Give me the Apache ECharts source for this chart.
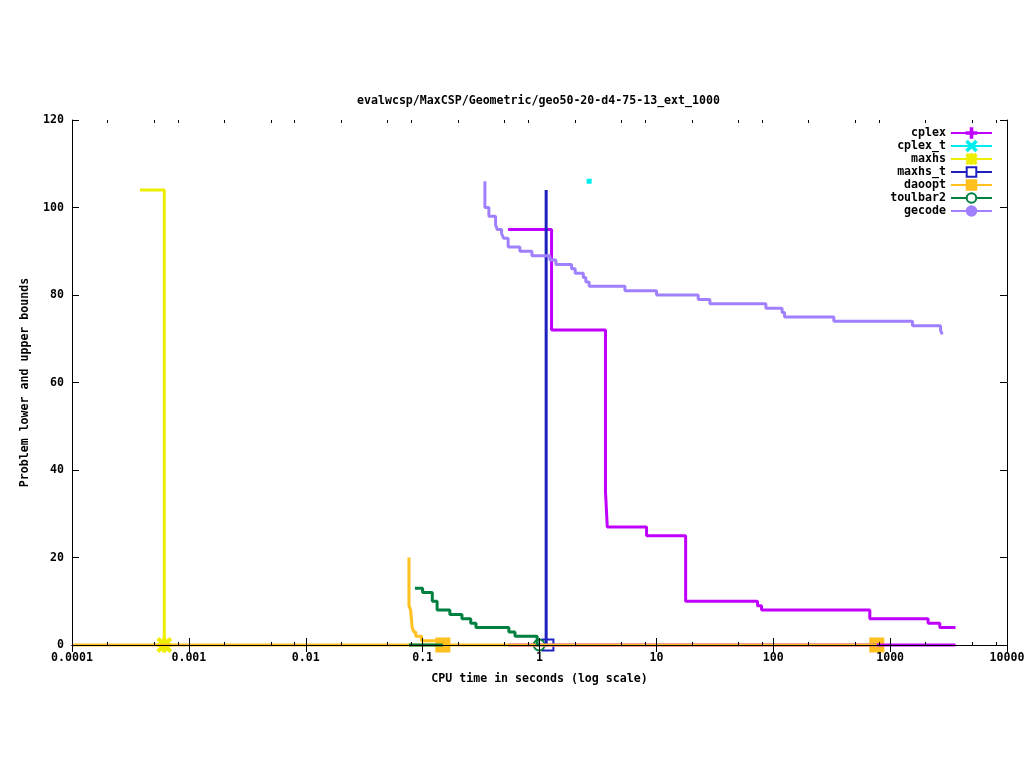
<!DOCTYPE html>
<html>
<head>
<meta charset="utf-8">
<script src="https://cdn.jsdelivr.net/npm/echarts@6/dist/echarts.min.js"></script>
<style>
html, body { margin: 0; padding: 0; background: #fff; }
#chart { width: 1024px; height: 768px; }
</style>
</head>
<body>
<div id="chart"></div>
<script>
// solver names, in the order gnuplot draws them
const names = ['cplex', 'cplex_t', 'maxhs', 'maxhs_t', 'daoopt', 'toulbar2', 'gecode'];
const colors = ['#c000ff', '#00eeee', '#eeee00', '#2020c0', '#ffc020', '#008040', '#a080ff'];

// [cpu time (s), bound] pairs, gnuplot "steps" style
const cplexUpper = [[0.539, 95], [1.268, 72], [3.67, 35], [3.80, 27], [8.24, 25], [17.8, 10],
  [73.4, 9], [79.4, 8], [670, 6], [2113, 5], [2661, 4], [3625, 4]];
const cplexLower = [[0.539, 0], [3625, 0]];
const cplexTPoint = [[2.66, 106]];
const maxhsUpper = [[0.000382, 104], [0.000616, 104], [0.000616, 0]];
const maxhsMarks = [[0.000616, 0]];
const maxhsTUpper = [[1.14, 104], [1.14, 0], [1.18, 0]];
const maxhsTMarks = [[1.18, 0]];
const daooptUpper = [[0.0764, 20], [0.0764, 9], [0.0789, 8], [0.0814, 4], [0.0840, 3],
  [0.0874, 2], [0.0978, 1], [0.149, 0]];
const daooptLower = [[0.0001, 0], [769, 0]];
const daooptMarks = [[0.149, 0], [769, 0]];
const toulbarUpper = [[0.0859, 13], [0.100, 12], [0.121, 10], [0.133, 8], [0.171, 7], [0.217, 6],
  [0.258, 5], [0.286, 4], [0.547, 3], [0.617, 2], [0.955, 0], [0.994, 0]];
const toulbarLower = [[0.0764, 0], [0.149, 0]];
const toulbarMarks = [[0.994, 0]];
const gecodeUpper = [[0.341, 106], [0.341, 100], [0.369, 98], [0.421, 96], [0.435, 95], [0.474, 94],
  [0.493, 93], [0.539, 91], [0.679, 90], [0.861, 89], [1.227, 88], [1.381, 87], [1.882, 86],
  [2.02, 85], [2.37, 84], [2.49, 83], [2.66, 82], [5.38, 81], [10.04, 80], [22.8, 79], [28.7, 78],
  [86.5, 77], [119, 76], [125, 75], [330, 74], [1555, 73], [2698, 72], [2786, 71]];

// minor x ticks (gnuplot puts them at 2, 5, 8 of each decade)
const decades = [0.0001, 0.001, 0.01, 0.1, 1, 10, 100, 1000];
const minorSteps = [2, 5, 8];

const FONT = 'DejaVu Sans Mono';
const LW = 3;

// symbol shapes
const PLUS = 'path://M5,0h2v5h5v2h-5v5h-2v-5h-5v-2h5z';
const CROSS = 'path://M0,1.4L1.4,0L6,4.6L10.6,0L12,1.4L7.4,6L12,10.6L10.6,12L6,7.4L1.4,12L0,10.6L4.6,6Z';
const STAR = 'path://M5,0h2v5h5v2h-5v5h-2v-5h-5v-2h5zM0,1.4L1.4,0L6,4.6L10.6,0L12,1.4L7.4,6L12,10.6L10.6,12L6,7.4L1.4,12L0,10.6L4.6,6Z';
const symbols = [PLUS, CROSS, STAR, 'emptyRect', 'rect', 'emptyCircle', 'circle'];

function stepLine(i, data) {
  return {
    name: names[i], type: 'line', step: 'end', data: data, clip: false,
    symbol: symbols[i], showSymbol: false,
    lineStyle: { color: colors[i], width: LW },
    itemStyle: { color: colors[i], borderColor: colors[i], borderWidth: 2 },
    emphasis: { disabled: true }
  };
}
function marks(i, data, size) {
  return {
    name: names[i], type: 'scatter', data: data, clip: false,
    symbol: symbols[i], symbolSize: size || 12,
    itemStyle: { color: colors[i], borderColor: colors[i], borderWidth: 2, opacity: 1 },
    emphasis: { disabled: true }
  };
}

const minorData = [];
decades.forEach(d => minorSteps.forEach(s => minorData.push([d * s, 0])));

const chart = echarts.init(document.getElementById('chart'));

const axisCommon = {
  axisLine: { show: true, lineStyle: { color: '#000', width: 1 } },
  axisTick: { show: true, inside: true, length: 7, lineStyle: { color: '#000' } },
  splitLine: { show: false },
  z: 5
};

const option = {
  animation: false,
  backgroundColor: '#fff',
  title: {
    text: 'evalwcsp/MaxCSP/Geometric/geo50-20-d4-75-13_ext_1000',
    left: 357, top: 95, padding: 0,
    textStyle: { fontFamily: FONT, fontSize: 11.6, fontWeight: 'bold', color: '#000' }
  },
  legend: {
    data: names, orient: 'vertical', right: 31, top: 127, align: 'right',
    itemWidth: 41, itemHeight: 12, itemGap: 1, padding: 0, selectedMode: false,
    textStyle: { fontFamily: FONT, fontSize: 11.6, fontWeight: 'bold', color: '#000', width: 70 }
  },
  grid: { left: 72, right: 17, top: 120, bottom: 123, containLabel: false, outerBoundsMode: 'none' },
  xAxis: [
    Object.assign({
      type: 'log', logBase: 10, min: 0.0001, max: 10000, splitNumber: 8,
      position: 'bottom',
      name: 'CPU time in seconds (log scale)', nameLocation: 'middle', nameGap: 28,
      nameTextStyle: { fontFamily: FONT, fontSize: 11.6, fontWeight: 'bold', color: '#000' },
      axisLabel: {
        margin: 7, fontFamily: FONT, fontSize: 11.6, fontWeight: 'bold', color: '#000',
        formatter: v => String(+(+v).toPrecision(4))
      }
    }, axisCommon),
    Object.assign({
      type: 'log', logBase: 10, min: 0.0001, max: 10000, splitNumber: 8,
      position: 'top', axisLabel: { show: false }
    }, axisCommon)
  ],
  yAxis: [
    Object.assign({
      type: 'value', min: 0, max: 120, interval: 20, position: 'left',
      name: 'Problem lower and upper bounds', nameLocation: 'middle', nameGap: 41,
      nameTextStyle: { fontFamily: FONT, fontSize: 11.6, fontWeight: 'bold', color: '#000' },
      axisLabel: { margin: 8, fontFamily: FONT, fontSize: 11.6, fontWeight: 'bold', color: '#000' }
    }, axisCommon),
    Object.assign({
      type: 'value', min: 0, max: 120, interval: 20, position: 'right',
      axisLabel: { show: false }
    }, axisCommon)
  ],
  series: [
    stepLine(0, cplexUpper),
    stepLine(0, cplexLower),
    stepLine(1, cplexTPoint),
    Object.assign(marks(1, cplexTPoint, 3), { symbol: 'rect' }),
    stepLine(2, maxhsUpper),
    marks(2, maxhsMarks, 13),
    stepLine(3, maxhsTUpper),
    marks(3, maxhsTMarks, 11),
    stepLine(4, daooptLower),
    stepLine(4, daooptUpper),
    marks(4, daooptMarks, 13),
    stepLine(5, toulbarLower),
    stepLine(5, toulbarUpper),
    marks(5, toulbarMarks, 11),
    stepLine(6, gecodeUpper),
    {
      type: 'custom', data: minorData, clip: false, silent: true, z: 6,
      renderItem: (params, api) => {
        const v = api.value(0);
        const b = api.coord([v, 0]);
        const t = api.coord([v, 120]);
        const x = Math.round(b[0]) + 0.5;
        return {
          type: 'group',
          children: [
            { type: 'line', shape: { x1: x, y1: b[1], x2: x, y2: b[1] - 3 }, style: { stroke: '#000', lineWidth: 1 } },
            { type: 'line', shape: { x1: x, y1: t[1], x2: x, y2: t[1] + 3 }, style: { stroke: '#000', lineWidth: 1 } }
          ]
        };
      }
    }
  ]
};

chart.setOption(option);
</script>
</body>
</html>
